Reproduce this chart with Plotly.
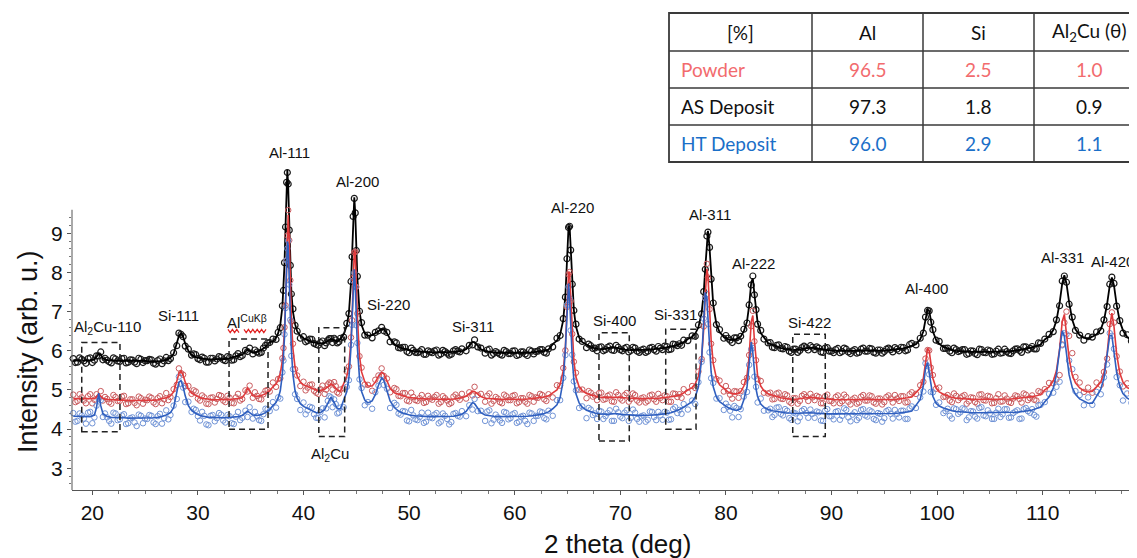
import plotly.graph_objects as go

# ---------------- data ----------------
two_theta = [
    18.2, 18.6, 19.0, 19.4, 19.8,
    20.2, 20.4, 20.6, 20.8, 21.0,
    21.4, 21.8, 22.2, 22.6, 23.0, 23.4, 23.8, 24.2, 24.6, 25.0, 25.4, 25.8, 26.2, 26.6, 27.0, 27.4,
    27.7, 28.0, 28.2, 28.4, 28.6, 28.8, 29.1, 29.4,
    29.8, 30.2, 30.6, 31.0, 31.4, 31.8, 32.2, 32.6, 33.0, 33.4, 33.8, 34.2,
    34.5, 34.7, 34.9, 35.2,
    35.6, 36.0, 36.4, 36.8,
    37.1, 37.4, 37.6, 37.8, 38.0, 38.1, 38.2, 38.3, 38.4, 38.47, 38.55, 38.65, 38.75, 38.85, 39.0, 39.2, 39.4, 39.7, 40.0,
    40.4, 40.8, 41.2, 41.6, 42.0, 42.3, 42.6, 42.9, 43.2, 43.5,
    43.8, 44.1, 44.3, 44.5, 44.6, 44.7, 44.81, 44.9, 45.0, 45.1, 45.3, 45.5, 45.8, 46.1,
    46.5, 46.8, 47.1, 47.4, 47.6, 47.9, 48.2, 48.6,
    49.0, 49.4, 49.8, 50.2, 50.6, 51.0, 51.4, 51.8, 52.2, 52.6, 53.0, 53.4, 53.8, 54.2, 54.6, 55.0,
    55.4, 55.7, 56.0, 56.2, 56.5, 56.8, 57.2,
    57.6, 58.0, 58.4, 58.8, 59.2, 59.6, 60.0, 60.4, 60.8, 61.2, 61.6, 62.0, 62.4, 62.8, 63.2,
    63.6, 64.0, 64.3, 64.6, 64.8, 64.95, 65.1, 65.2, 65.3, 65.45, 65.6, 65.8, 66.1, 66.4, 66.8,
    67.2, 67.6, 68.0, 68.4, 68.8, 69.2, 69.6, 70.0, 70.4, 70.8, 71.2, 71.6, 72.0, 72.4, 72.8, 73.2, 73.6, 74.0, 74.4, 74.8, 75.2, 75.6, 76.0,
    76.4, 76.8, 77.1, 77.4, 77.7, 77.9, 78.05, 78.2, 78.3, 78.45, 78.6, 78.8, 79.1, 79.4, 79.8,
    80.2, 80.6, 81.0, 81.4,
    81.7, 82.0, 82.2, 82.4, 82.55, 82.7, 82.85, 83.0, 83.3, 83.6, 84.0,
    84.4, 84.8, 85.2, 85.6, 86.0, 86.4, 86.8, 87.2, 87.6, 88.0, 88.4, 88.8, 89.2, 89.6, 90.0, 90.4, 90.8,
    91.2, 91.6, 92.0, 92.4, 92.8, 93.2, 93.6, 94.0, 94.4, 94.8, 95.2, 95.6, 96.0, 96.4, 96.8, 97.2, 97.6,
    98.0, 98.4, 98.7, 98.9, 99.1, 99.25, 99.4, 99.6, 99.9, 100.2, 100.6,
    101.0, 101.4, 101.8, 102.2, 102.6, 103.0, 103.4, 103.8, 104.2, 104.6, 105.0, 105.4, 105.8, 106.2, 106.6,
    107.0, 107.4, 107.8, 108.2, 108.6, 109.0, 109.4, 109.8,
    110.2, 110.6, 111.0, 111.3, 111.6, 111.85, 112.05, 112.25, 112.5, 112.8, 113.1, 113.5, 113.9, 114.3, 114.7,
    115.1, 115.5, 115.8, 116.1, 116.35, 116.55, 116.75, 117.0, 117.3, 117.6, 118.0, 118.4, 118.8, 119.2,
]

# AS Deposit (black) - fitted curve
as_fit = [
    5.75, 5.75, 5.76, 5.75, 5.76,
    5.78, 5.84, 5.92, 5.90, 5.80,
    5.76, 5.75, 5.75, 5.74, 5.75, 5.75, 5.74, 5.74, 5.75, 5.74, 5.73, 5.72, 5.73, 5.74, 5.77, 5.82,
    5.92, 6.18, 6.38, 6.45, 6.36, 6.18, 6.00, 5.90,
    5.84, 5.81, 5.79, 5.78, 5.78, 5.78, 5.78, 5.79, 5.81, 5.84, 5.87, 5.90,
    5.98, 6.03, 6.00, 5.95,
    5.97, 6.02, 6.10, 6.22,
    6.24, 6.33, 6.45, 6.66, 7.12, 7.53, 8.20, 9.20, 10.28, 10.62, 10.20, 9.10, 8.15, 7.50, 7.00, 6.68, 6.50, 6.38, 6.32,
    6.27, 6.23, 6.20, 6.19, 6.20, 6.24, 6.30, 6.27, 6.24, 6.30,
    6.42, 6.64, 6.97, 7.74, 8.45, 9.36, 9.92, 9.52, 8.62, 7.86, 7.02, 6.66, 6.44, 6.38,
    6.40, 6.44, 6.50, 6.55, 6.55, 6.45, 6.30, 6.17,
    6.10, 6.06, 6.03, 6.00, 5.99, 5.98, 5.97, 5.96, 5.96, 5.96, 5.96, 5.96, 5.96, 5.97, 5.98, 6.00,
    6.04, 6.12, 6.22, 6.22, 6.12, 6.04, 5.99,
    5.97, 5.96, 5.95, 5.95, 5.94, 5.94, 5.94, 5.94, 5.95, 5.95, 5.96, 5.97, 5.98, 6.00, 6.03,
    6.17, 6.26, 6.41, 6.79, 7.42, 8.28, 9.18, 9.18, 8.63, 7.66, 7.04, 6.62, 6.34, 6.22, 6.15,
    6.10, 6.06, 6.04, 6.04, 6.07, 6.09, 6.08, 6.05, 6.03, 6.02, 6.02, 6.02, 6.02, 6.02, 6.03, 6.04, 6.05, 6.07, 6.09, 6.11, 6.13, 6.17, 6.22,
    6.30, 6.36, 6.44, 6.60, 6.96, 7.48, 8.13, 8.86, 9.06, 8.64, 7.89, 7.18, 6.68, 6.48, 6.36,
    6.30, 6.28, 6.30, 6.36,
    6.50, 6.75, 7.15, 7.75, 7.85, 7.45, 7.02, 6.73, 6.45, 6.33, 6.20,
    6.15, 6.10, 6.07, 6.05, 6.03, 6.02, 6.03, 6.05, 6.07, 6.08, 6.07, 6.05, 6.03, 6.02, 6.01, 6.00, 6.00,
    6.00, 6.00, 6.00, 6.00, 6.00, 6.00, 6.00, 6.00, 6.00, 6.01, 6.01, 6.02, 6.03, 6.04, 6.06, 6.09, 6.13,
    6.17, 6.29, 6.50, 6.79, 7.06, 7.02, 6.79, 6.50, 6.28, 6.18, 6.10,
    6.05, 6.02, 6.00, 5.99, 5.98, 5.97, 5.97, 5.97, 5.97, 5.97, 5.97, 5.97, 5.97, 5.98, 5.98,
    5.99, 6.00, 6.02, 6.04, 6.06, 6.09, 6.12, 6.16,
    6.29, 6.37, 6.53, 6.77, 7.22, 7.72, 7.93, 7.72, 7.24, 6.79, 6.55, 6.40, 6.33, 6.32, 6.36,
    6.42, 6.55, 6.77, 7.20, 7.67, 7.87, 7.67, 7.18, 6.75, 6.52, 6.35, 6.27, 6.22, 6.18,
]

# AS Deposit (black) - measured points
as_raw = [
    5.80, 5.71, 5.78, 5.68, 5.82,
    5.76, 5.87, 5.87, 5.97, 5.77,
    5.76, 5.69, 5.79, 5.73, 5.81, 5.71, 5.76, 5.67, 5.78, 5.75, 5.78, 5.68, 5.75, 5.67, 5.83, 5.80,
    5.95, 6.13, 6.45, 6.42, 6.36, 6.12, 6.04, 5.89,
    5.90, 5.77, 5.81, 5.71, 5.81, 5.79, 5.83, 5.75, 5.83, 5.77, 5.93, 5.88,
    6.01, 5.98, 6.07, 5.92,
    5.97, 5.96, 6.14, 6.21,
    6.30, 6.29, 6.47, 6.59, 7.15, 7.54, 8.25, 9.16, 10.30, 10.55, 10.26, 9.08, 8.18, 7.45, 7.07, 6.65, 6.50, 6.32, 6.36,
    6.26, 6.29, 6.16, 6.21, 6.13, 6.27, 6.31, 6.32, 6.20, 6.32,
    6.35, 6.70, 6.95, 7.77, 8.40, 9.43, 9.89, 9.52, 8.56, 7.90, 7.01, 6.72, 6.40, 6.40,
    6.33, 6.47, 6.51, 6.60, 6.51, 6.47, 6.23, 6.23,
    6.08, 6.09, 5.98, 6.07, 5.96, 5.98, 5.91, 6.00, 5.95, 6.02, 5.92, 5.98, 5.89, 6.00, 5.99, 6.05,
    6.00, 6.14, 6.15, 6.28, 6.10, 6.07, 5.94,
    6.04, 5.93, 5.95, 5.89, 5.98, 5.93, 6.00, 5.90, 5.97, 5.88, 5.99, 5.98, 6.03, 5.96, 6.05,
    6.10, 6.32, 6.39, 6.82, 7.37, 8.35, 9.15, 9.18, 8.57, 7.70, 7.03, 6.68, 6.30, 6.24, 6.08,
    6.13, 6.07, 6.09, 6.00, 6.09, 6.02, 6.14, 6.03, 6.06, 5.97, 6.09, 5.99, 6.02, 5.96, 6.07, 6.03, 6.11, 6.03, 6.11, 6.04, 6.16, 6.18, 6.27,
    6.26, 6.38, 6.37, 6.66, 6.94, 7.51, 8.08, 8.93, 9.03, 8.64, 7.83, 7.22, 6.67, 6.54, 6.32,
    6.32, 6.21, 6.33, 6.37,
    6.55, 6.71, 7.17, 7.68, 7.91, 7.43, 7.05, 6.68, 6.52, 6.30, 6.20,
    6.09, 6.14, 6.06, 6.11, 5.99, 6.04, 5.96, 6.08, 6.08, 6.13, 6.03, 6.07, 5.96, 6.08, 5.99, 6.03, 5.95,
    6.07, 5.97, 6.00, 5.94, 6.04, 5.99, 6.06, 5.96, 6.02, 5.94, 6.04, 6.03, 6.08, 6.00, 6.08, 6.02, 6.19,
    6.15, 6.32, 6.45, 6.86, 7.03, 7.02, 6.73, 6.54, 6.27, 6.24, 6.06,
    6.07, 5.95, 6.03, 6.00, 6.03, 5.93, 5.99, 5.90, 6.03, 5.95, 6.00, 5.92, 6.04, 5.95, 5.98,
    5.93, 6.04, 6.01, 6.10, 6.02, 6.11, 6.05, 6.19,
    6.30, 6.42, 6.49, 6.79, 7.15, 7.78, 7.91, 7.75, 7.19, 6.86, 6.52, 6.40, 6.27, 6.36, 6.35,
    6.48, 6.51, 6.79, 7.13, 7.70, 7.88, 7.72, 7.14, 6.77, 6.45, 6.41, 6.25, 6.25, 6.13,
]

# Powder (red) - fitted curve
powder_fit = [
    4.78, 4.78, 4.77, 4.77, 4.77,
    4.78, 4.82, 4.90, 4.84, 4.78,
    4.76, 4.75, 4.74, 4.74, 4.74, 4.73, 4.73, 4.73, 4.73, 4.73, 4.73, 4.74, 4.75, 4.77, 4.80, 4.85,
    4.95, 5.22, 5.42, 5.48, 5.38, 5.20, 5.02, 4.92,
    4.85, 4.80, 4.78, 4.76, 4.75, 4.75, 4.75, 4.75, 4.76, 4.77, 4.78, 4.80,
    4.92, 5.05, 4.98, 4.85,
    4.84, 4.86, 4.90, 4.98,
    5.08, 5.15, 5.25, 5.42, 5.75, 6.05, 6.50, 7.22, 8.27, 9.05, 9.47, 8.85, 7.73, 6.83, 6.05, 5.58, 5.36, 5.20, 5.13,
    5.08, 5.03, 5.00, 4.99, 5.02, 5.08, 5.15, 5.10, 5.00, 4.97,
    5.16, 5.35, 5.63, 6.27, 6.87, 7.73, 8.56, 8.52, 7.73, 6.87, 5.88, 5.46, 5.21, 5.10,
    5.10, 5.20, 5.35, 5.45, 5.42, 5.25, 5.05, 4.93,
    4.88, 4.85, 4.82, 4.80, 4.79, 4.78, 4.77, 4.77, 4.77, 4.76, 4.76, 4.76, 4.76, 4.77, 4.78, 4.80,
    4.84, 4.90, 4.97, 4.96, 4.90, 4.83, 4.79,
    4.78, 4.77, 4.77, 4.76, 4.76, 4.76, 4.76, 4.76, 4.76, 4.77, 4.78, 4.79, 4.80, 4.82, 4.85,
    4.92, 5.00, 5.14, 5.49, 6.10, 6.99, 8.00, 8.00, 7.37, 6.35, 5.74, 5.33, 5.08, 4.98, 4.91,
    4.87, 4.84, 4.82, 4.81, 4.81, 4.82, 4.82, 4.81, 4.80, 4.79, 4.78, 4.78, 4.78, 4.78, 4.78, 4.78, 4.79, 4.80, 4.81, 4.82, 4.84, 4.87, 4.92,
    5.00, 5.06, 5.16, 5.35, 5.82, 6.55, 7.43, 8.09, 7.92, 7.05, 6.28, 5.68, 5.30, 5.13, 5.03,
    4.95, 4.90, 4.90, 4.95,
    5.10, 5.37, 5.85, 6.74, 6.90, 6.27, 5.69, 5.37, 5.10, 4.98, 4.90,
    4.86, 4.83, 4.80, 4.78, 4.77, 4.76, 4.77, 4.79, 4.80, 4.81, 4.80, 4.78, 4.77, 4.76, 4.75, 4.75, 4.75,
    4.75, 4.75, 4.75, 4.75, 4.75, 4.75, 4.75, 4.75, 4.75, 4.75, 4.75, 4.76, 4.76, 4.77, 4.78, 4.80, 4.82,
    4.93, 5.05, 5.30, 5.67, 6.07, 6.00, 5.67, 5.30, 5.05, 4.95, 4.89,
    4.84, 4.81, 4.79, 4.78, 4.77, 4.77, 4.76, 4.76, 4.76, 4.76, 4.76, 4.76, 4.76, 4.76, 4.77,
    4.77, 4.78, 4.79, 4.80, 4.81, 4.83, 4.85, 4.88,
    5.00, 5.08, 5.23, 5.49, 6.04, 6.75, 6.93, 6.47, 5.81, 5.38, 5.18, 5.05, 4.98, 4.95, 4.97,
    5.08, 5.20, 5.43, 5.92, 6.62, 6.96, 6.62, 5.92, 5.43, 5.20, 5.06, 5.00, 4.96, 4.94,
]

# Powder (red) - measured points
powder_raw = [
    4.88, 4.72, 4.81, 4.66, 4.89,
    4.75, 4.89, 4.81, 4.97, 4.73,
    4.77, 4.65, 4.82, 4.72, 4.85, 4.66, 4.76, 4.61, 4.79, 4.75, 4.83, 4.68, 4.79, 4.66, 4.92, 4.82,
    5.02, 5.13, 5.55, 5.43, 5.39, 5.10, 5.10, 4.90,
    4.96, 4.73, 4.81, 4.64, 4.81, 4.77, 4.85, 4.69, 4.80, 4.66, 4.90, 4.77,
    4.99, 4.96, 5.11, 4.80,
    4.85, 4.76, 4.98, 4.96,
    5.19, 5.08, 5.28, 5.30, 5.81, 6.07, 6.60, 7.16, 8.31, 8.94, 9.59, 8.82, 7.80, 6.74, 6.18, 5.53, 5.37, 5.10, 5.21,
    5.06, 5.14, 4.93, 5.02, 4.90, 5.14, 5.17, 5.20, 4.94, 5.01,
    5.05, 5.47, 5.60, 6.34, 6.78, 7.86, 8.51, 8.53, 7.63, 6.95, 5.86, 5.57, 5.14, 5.13,
    4.98, 5.26, 5.37, 5.55, 5.36, 5.29, 4.94, 5.05,
    4.85, 4.92, 4.73, 4.93, 4.74, 4.79, 4.67, 4.85, 4.75, 4.87, 4.69, 4.79, 4.64, 4.83, 4.80, 4.90,
    4.78, 4.94, 4.86, 5.08, 4.87, 4.90, 4.70,
    4.91, 4.72, 4.78, 4.66, 4.84, 4.74, 4.87, 4.69, 4.79, 4.65, 4.84, 4.81, 4.90, 4.76, 4.89,
    4.81, 5.12, 5.11, 5.56, 6.01, 7.12, 7.95, 8.01, 7.27, 6.43, 5.72, 5.44, 5.01, 5.01, 4.79,
    4.93, 4.86, 4.92, 4.75, 4.85, 4.71, 4.94, 4.78, 4.87, 4.70, 4.91, 4.73, 4.79, 4.68, 4.86, 4.76, 4.90, 4.74, 4.84, 4.70, 4.90, 4.89, 5.02,
    4.94, 5.10, 5.05, 5.47, 5.79, 6.62, 7.34, 8.22, 7.87, 7.06, 6.18, 5.76, 5.28, 5.24, 4.96,
    4.98, 4.78, 4.96, 4.97,
    5.20, 5.31, 5.89, 6.63, 7.02, 6.24, 5.76, 5.28, 5.23, 4.93, 4.91,
    4.76, 4.91, 4.78, 4.89, 4.70, 4.79, 4.65, 4.85, 4.82, 4.90, 4.74, 4.82, 4.66, 4.88, 4.72, 4.82, 4.66,
    4.88, 4.70, 4.76, 4.65, 4.83, 4.73, 4.86, 4.68, 4.78, 4.63, 4.82, 4.78, 4.87, 4.72, 4.84, 4.69, 4.94,
    4.90, 5.12, 5.21, 5.80, 6.02, 6.01, 5.57, 5.38, 5.03, 5.06, 4.82,
    4.87, 4.69, 4.85, 4.80, 4.87, 4.71, 4.80, 4.65, 4.89, 4.73, 4.83, 4.67, 4.89, 4.71, 4.78,
    4.67, 4.86, 4.77, 4.91, 4.74, 4.86, 4.73, 4.94,
    5.02, 5.18, 5.17, 5.27, 5.38, 6.16, 6.72, 7.00, 6.38, 5.94, 5.33, 5.19, 4.95, 5.06, 4.93,
    5.19, 5.13, 5.46, 5.80, 6.68, 6.98, 6.72, 5.86, 5.47, 5.09, 5.17, 4.93, 4.99, 4.84,
]

# HT Deposit (blue) - fitted curve
ht_fit = [
    4.33, 4.33, 4.32, 4.32, 4.32,
    4.36, 4.55, 4.92, 4.60, 4.40,
    4.32, 4.30, 4.30, 4.29, 4.29, 4.28, 4.28, 4.28, 4.28, 4.28, 4.28, 4.29, 4.30, 4.32, 4.36, 4.42,
    4.55, 4.92, 5.20, 5.24, 5.08, 4.85, 4.60, 4.48,
    4.40, 4.35, 4.32, 4.30, 4.30, 4.29, 4.29, 4.29, 4.30, 4.31, 4.32, 4.35,
    4.42, 4.46, 4.42, 4.36,
    4.35, 4.37, 4.42, 4.50,
    4.60, 4.68, 4.79, 4.98, 5.39, 5.76, 6.34, 7.21, 8.28, 8.79, 8.69, 7.75, 6.74, 6.02, 5.39, 4.98, 4.79, 4.65, 4.58,
    4.52, 4.46, 4.42, 4.42, 4.50, 4.66, 4.82, 4.68, 4.52, 4.52,
    4.74, 4.96, 5.31, 6.10, 6.81, 7.65, 8.08, 7.65, 6.81, 6.10, 5.31, 4.96, 4.74, 4.67,
    4.72, 4.88, 5.12, 5.30, 5.25, 5.00, 4.72, 4.55,
    4.46, 4.41, 4.37, 4.35, 4.34, 4.33, 4.32, 4.32, 4.32, 4.32, 4.32, 4.32, 4.32, 4.33, 4.35, 4.38,
    4.45, 4.58, 4.68, 4.65, 4.52, 4.42, 4.36,
    4.34, 4.33, 4.32, 4.32, 4.32, 4.32, 4.32, 4.32, 4.32, 4.33, 4.34, 4.35, 4.37, 4.40, 4.44,
    4.52, 4.62, 4.80, 5.26, 6.04, 7.03, 7.72, 7.36, 6.68, 5.80, 5.26, 4.90, 4.67, 4.56, 4.48,
    4.44, 4.41, 4.39, 4.38, 4.38, 4.39, 4.40, 4.38, 4.37, 4.36, 4.36, 4.35, 4.35, 4.35, 4.35, 4.36, 4.37, 4.38, 4.40, 4.42, 4.45, 4.50, 4.56,
    4.62, 4.70, 4.82, 5.08, 5.78, 6.77, 7.49, 7.31, 6.77, 5.98, 5.46, 5.08, 4.82, 4.70, 4.62,
    4.55, 4.50, 4.48, 4.52,
    4.75, 5.07, 5.61, 6.22, 5.95, 5.40, 5.03, 4.83, 4.64, 4.56, 4.50,
    4.47, 4.45, 4.43, 4.42, 4.41, 4.40, 4.40, 4.41, 4.42, 4.42, 4.41, 4.40, 4.39, 4.39, 4.39, 4.39, 4.39,
    4.39, 4.39, 4.39, 4.39, 4.39, 4.39, 4.39, 4.39, 4.39, 4.39, 4.39, 4.40, 4.40, 4.41, 4.42, 4.44, 4.46,
    4.60, 4.76, 5.11, 5.54, 5.70, 5.42, 5.11, 4.84, 4.66, 4.59, 4.54,
    4.50, 4.47, 4.45, 4.44, 4.43, 4.42, 4.42, 4.42, 4.42, 4.42, 4.42, 4.42, 4.42, 4.42, 4.42,
    4.43, 4.43, 4.44, 4.45, 4.47, 4.49, 4.52, 4.56,
    4.70, 4.82, 5.05, 5.39, 6.02, 6.51, 6.37, 5.90, 5.39, 5.06, 4.89, 4.77, 4.71, 4.66, 4.66,
    4.86, 5.02, 5.30, 5.85, 6.39, 6.39, 5.97, 5.45, 5.09, 4.91, 4.79, 4.73, 4.70, 4.68,
]

# HT Deposit (blue) - measured points
ht_raw = [
    4.41, 4.21, 4.35, 4.14, 4.44,
    4.30, 4.60, 4.77, 4.74, 4.31,
    4.30, 4.14, 4.40, 4.25, 4.38, 4.15, 4.30, 4.08, 4.34, 4.27, 4.36, 4.17, 4.33, 4.14, 4.48, 4.36,
    4.60, 4.77, 5.34, 5.15, 5.06, 4.69, 4.70, 4.44,
    4.49, 4.22, 4.34, 4.10, 4.36, 4.28, 4.37, 4.17, 4.33, 4.13, 4.44, 4.29,
    4.47, 4.31, 4.56, 4.27,
    4.33, 4.21, 4.52, 4.46,
    4.69, 4.55, 4.81, 4.78, 5.45, 5.75, 6.42, 7.09, 8.31, 8.61, 8.81, 7.69, 6.79, 5.87, 5.53, 4.89, 4.77, 4.49, 4.68,
    4.48, 4.55, 4.29, 4.44, 4.30, 4.72, 4.81, 4.76, 4.40, 4.55,
    4.56, 5.08, 5.25, 6.15, 6.66, 7.79, 7.99, 7.63, 6.65, 6.20, 5.27, 5.05, 4.61, 4.69,
    4.52, 4.94, 5.11, 5.38, 5.13, 5.03, 4.54, 4.67,
    4.40, 4.46, 4.22, 4.49, 4.25, 4.31, 4.16, 4.42, 4.28, 4.41, 4.19, 4.34, 4.12, 4.39, 4.34, 4.46,
    4.33, 4.61, 4.50, 4.77, 4.46, 4.47, 4.21,
    4.48, 4.24, 4.30, 4.16, 4.42, 4.28, 4.41, 4.19, 4.34, 4.13, 4.40, 4.34, 4.45, 4.28, 4.47,
    4.34, 4.74, 4.74, 5.31, 5.89, 7.17, 7.63, 7.34, 6.52, 5.90, 5.22, 4.99, 4.54, 4.58, 4.28,
    4.50, 4.40, 4.47, 4.26, 4.41, 4.21, 4.52, 4.32, 4.42, 4.21, 4.50, 4.26, 4.33, 4.19, 4.45, 4.31, 4.44, 4.24, 4.42, 4.25, 4.56, 4.49, 4.64,
    4.50, 4.73, 4.64, 5.20, 5.72, 6.82, 7.34, 7.45, 6.68, 5.96, 5.30, 5.18, 4.78, 4.79, 4.49,
    4.57, 4.30, 4.54, 4.51,
    4.83, 4.95, 5.64, 6.04, 6.07, 5.34, 5.08, 4.68, 4.78, 4.47, 4.48,
    4.31, 4.55, 4.39, 4.51, 4.28, 4.42, 4.20, 4.47, 4.41, 4.50, 4.29, 4.43, 4.21, 4.51, 4.33, 4.44, 4.24,
    4.53, 4.30, 4.37, 4.23, 4.49, 4.35, 4.48, 4.26, 4.41, 4.19, 4.46, 4.39, 4.49, 4.30, 4.47, 4.26, 4.58,
    4.54, 4.81, 4.96, 5.68, 5.61, 5.40, 4.95, 4.94, 4.62, 4.68, 4.41,
    4.52, 4.27, 4.51, 4.43, 4.51, 4.30, 4.45, 4.27, 4.56, 4.33, 4.40, 4.26, 4.52, 4.38, 4.51,
    4.30, 4.45, 4.26, 4.51, 4.46, 4.51, 4.32, 4.62,
    4.69, 4.90, 4.93, 5.08, 5.21, 6.14, 6.45, 6.42, 5.75, 5.53, 4.97, 4.87, 4.61, 4.81, 4.62,
    4.95, 4.89, 5.32, 5.65, 6.45, 6.38, 6.05, 5.33, 5.12, 4.73, 4.91, 4.67, 4.75, 4.53,
]

# additional measured points in the flat background stretches
two_theta_bg = [
    18.4, 18.8, 19.2, 19.6, 20.0,
    21.2, 21.6, 22.0, 22.4, 22.8, 23.2, 23.6, 24.0, 24.4, 24.8, 25.2, 25.6, 26.0, 26.4, 26.8, 27.2,
    29.6, 30.0, 30.4, 30.8, 31.2, 31.6, 32.0, 32.4, 32.8, 33.2, 33.6, 34.0,
    35.4, 35.8, 36.2, 36.6,
    40.2, 40.6, 41.0, 41.4, 41.8, 42.15, 42.45, 42.75, 43.05, 43.35,
    48.8, 49.2, 49.6, 50.0, 50.4, 50.8, 51.2, 51.6, 52.0, 52.4, 52.8, 53.2, 53.6, 54.0, 54.4, 54.8,
    57.4, 57.8, 58.2, 58.6, 59.0, 59.4, 59.8, 60.2, 60.6, 61.0, 61.4, 61.8, 62.2, 62.6, 63.0,
    67.0, 67.4, 67.8, 68.2, 68.6, 69.0, 69.4, 69.8, 70.2, 70.6, 71.0, 71.4, 71.8, 72.2, 72.6, 73.0,
    73.4, 73.8, 74.2, 74.6, 75.0, 75.4, 75.8,
    80.0, 80.4, 80.8, 81.2,
    84.2, 84.6, 85.0, 85.4, 85.8, 86.2, 86.6, 87.0, 87.4, 87.8, 88.2, 88.6, 89.0, 89.4, 89.8, 90.2, 90.6,
    91.0, 91.4, 91.8, 92.2, 92.6, 93.0, 93.4, 93.8, 94.2, 94.6, 95.0, 95.4, 95.8, 96.2, 96.6, 97.0, 97.4,
    100.8, 101.2, 101.6, 102.0, 102.4, 102.8, 103.2, 103.6, 104.0, 104.4, 104.8, 105.2, 105.6, 106.0,
    106.4, 106.8, 107.2, 107.6, 108.0, 108.4, 108.8, 109.2, 109.6,
]
as_raw_bg = [
    5.70, 5.82, 5.74, 5.80, 5.70,
    5.81, 5.72, 5.82, 5.74, 5.80, 5.69, 5.77, 5.71, 5.81, 5.70, 5.75, 5.77, 5.66, 5.79, 5.74, 5.75,
    5.92, 5.80, 5.84, 5.71, 5.81, 5.74, 5.85, 5.77, 5.85, 5.76, 5.87, 5.85,
    6.02, 5.94, 6.07, 6.20,
    6.23, 6.30, 6.19, 6.14, 6.25, 6.20, 6.31, 6.21, 6.28, 6.23,
    6.20, 6.07, 6.09, 5.95, 6.01, 5.95, 6.03, 5.91, 5.97, 6.00, 5.89, 6.01, 5.94, 5.91, 6.03, 5.97,
    6.02, 5.89, 5.98, 5.91, 6.01, 5.93, 5.99, 5.88, 5.97, 5.92, 6.02, 5.92, 5.99, 6.03, 5.94,
    6.17, 6.06, 6.00, 6.10, 6.03, 6.12, 6.01, 6.09, 6.00, 6.09, 6.01, 6.07, 5.96, 6.04, 5.99, 6.09,
    5.99, 6.07, 6.12, 6.03, 6.17, 6.13, 6.14,
    6.39, 6.27, 6.33, 6.26,
    6.21, 6.08, 6.15, 6.05, 6.09, 5.96, 6.04, 6.01, 6.12, 6.02, 6.09, 6.10, 5.97, 6.07, 5.99, 5.95, 6.06,
    5.98, 6.04, 5.93, 6.03, 5.96, 6.07, 5.99, 6.05, 5.94, 6.02, 5.98, 6.07, 5.97, 6.04, 6.09, 6.00, 6.16,
    6.06, 5.99, 6.07, 5.98, 6.03, 5.91, 6.00, 5.93, 6.04, 5.96, 6.02, 5.91, 5.99, 5.94,
    6.04, 5.94, 6.00, 6.05, 5.96, 6.10, 6.06, 6.05, 6.20,
]
powder_raw_bg = [
    4.69, 4.89, 4.73, 4.84, 4.66,
    4.82, 4.69, 4.87, 4.72, 4.83, 4.64, 4.76, 4.67, 4.83, 4.65, 4.74, 4.80, 4.64, 4.84, 4.76, 4.74,
    4.99, 4.78, 4.86, 4.65, 4.80, 4.68, 4.87, 4.73, 4.85, 4.67, 4.81, 4.73,
    4.94, 4.77, 4.89, 5.00,
    4.99, 5.13, 4.98, 4.90, 5.11, 5.01, 5.19, 5.01, 5.10, 4.91,
    5.02, 4.84, 4.92, 4.71, 4.82, 4.72, 4.87, 4.69, 4.78, 4.82, 4.65, 4.84, 4.73, 4.67, 4.88, 4.75,
    4.85, 4.65, 4.82, 4.69, 4.88, 4.74, 4.85, 4.66, 4.79, 4.70, 4.87, 4.70, 4.80, 4.87, 4.72,
    4.97, 4.83, 4.74, 4.93, 4.77, 4.88, 4.70, 4.87, 4.73, 4.92, 4.77, 4.87, 4.68, 4.81, 4.72, 4.88,
    4.70, 4.80, 4.86, 4.70, 4.91, 4.82, 4.80,
    5.10, 4.88, 4.97, 4.80,
    4.93, 4.77, 4.93, 4.77, 4.86, 4.66, 4.79, 4.72, 4.89, 4.72, 4.81, 4.85, 4.66, 4.84, 4.72, 4.66, 4.86,
    4.71, 4.82, 4.63, 4.80, 4.68, 4.87, 4.73, 4.84, 4.65, 4.78, 4.69, 4.86, 4.68, 4.78, 4.84, 4.68, 4.89,
    4.83, 4.73, 4.91, 4.74, 4.84, 4.65, 4.81, 4.69, 4.88, 4.74, 4.85, 4.66, 4.79, 4.70,
    4.86, 4.69, 4.78, 4.84, 4.68, 4.88, 4.79, 4.75, 4.97,
]
ht_raw_bg = [
    4.19, 4.40, 4.27, 4.42, 4.15,
    4.40, 4.21, 4.42, 4.23, 4.35, 4.13, 4.28, 4.17, 4.37, 4.15, 4.26, 4.34, 4.13, 4.39, 4.28, 4.25,
    4.52, 4.33, 4.44, 4.12, 4.34, 4.20, 4.41, 4.22, 4.36, 4.15, 4.32, 4.23,
    4.44, 4.23, 4.38, 4.51,
    4.38, 4.57, 4.38, 4.28, 4.53, 4.53, 4.84, 4.56, 4.64, 4.42,
    4.62, 4.37, 4.45, 4.20, 4.35, 4.23, 4.42, 4.19, 4.30, 4.37, 4.15, 4.40, 4.26, 4.18, 4.41, 4.32,
    4.45, 4.15, 4.37, 4.22, 4.44, 4.25, 4.38, 4.16, 4.32, 4.21, 4.42, 4.21, 4.34, 4.43, 4.25,
    4.54, 4.36, 4.26, 4.45, 4.33, 4.48, 4.21, 4.43, 4.28, 4.48, 4.29, 4.42, 4.19, 4.35, 4.24, 4.44,
    4.23, 4.35, 4.44, 4.24, 4.51, 4.41, 4.39,
    4.65, 4.47, 4.59, 4.31,
    4.52, 4.36, 4.56, 4.35, 4.47, 4.24, 4.40, 4.30, 4.51, 4.29, 4.39, 4.45, 4.22, 4.47, 4.33, 4.25, 4.46,
    4.34, 4.49, 4.20, 4.43, 4.29, 4.51, 4.32, 4.45, 4.23, 4.39, 4.28, 4.49, 4.27, 4.39, 4.47, 4.26, 4.53,
    4.46, 4.34, 4.53, 4.39, 4.53, 4.23, 4.46, 4.32, 4.54, 4.35, 4.48, 4.26, 4.42, 4.31,
    4.51, 4.29, 4.41, 4.48, 4.27, 4.54, 4.42, 4.36, 4.61,
]

for _arr in (as_fit, as_raw, powder_fit, powder_raw, ht_fit, ht_raw):
    assert len(_arr) == len(two_theta), len(_arr)
for _arr in (as_raw_bg, powder_raw_bg, ht_raw_bg):
    assert len(_arr) == len(two_theta_bg), (len(_arr), len(two_theta_bg))

# peak labels
peak_labels = ["Al<sub>2</sub>Cu-110", "Si-111", "Al<sup>CuKβ</sup>", "Al-111", "Al-200", "Si-220",
               "Al<sub>2</sub>Cu", "Si-311", "Al-220", "Si-400", "Si-331", "Al-311", "Al-222",
               "Si-422", "Al-400", "Al-331", "Al-420"]
label_x = [21.4, 28.13, 34.65, 38.71, 45.15, 48.08, 42.51, 56.05, 65.43, 69.41, 75.19, 78.5, 82.66,
           87.96, 98.95, 111.83, 116.6]
label_y = [6.585, 6.89, 6.74, 11.05, 10.31, 7.17, 3.34, 6.63, 9.65, 6.77, 6.92, 9.47, 8.22,
           6.71, 7.6, 8.37, 8.27]

# dashed boxes around minor reflections (2theta, intensity)
box_x0 = [19.0, 32.95, 41.45, 67.98, 74.3, 86.33]
box_x1 = [22.62, 36.64, 43.9, 70.85, 77.17, 89.41]
box_y0 = [3.93, 4.00, 3.81, 3.70, 4.00, 3.81]
box_y1 = [6.21, 6.30, 6.59, 6.46, 6.55, 6.42]

# phase fraction table
table_header = ["[%]", "Al", "Si", "Al<sub>2</sub>Cu (θ)"]
table_rows = ["Powder", "AS Deposit", "HT Deposit"]
al_pct = [96.5, 97.3, 96.0]
si_pct = [2.5, 1.8, 2.9]
al2cu_pct = [1.0, 0.9, 1.1]

x_ticks = [20, 30, 40, 50, 60, 70, 80, 90, 100, 110]
y_ticks = [3, 4, 5, 6, 7, 8, 9]

# ---------------- figure ----------------
# the page body has an 8px default margin, so the figure is drawn 8px smaller
OFF = 8
W, H = 1137 - OFF, 558 - OFF
ML = 72 - OFF
PW = W - ML
PH = 490 - OFF
MB = H - PH


def pxx(px):
    return (px - OFF - ML) / PW


def pxy(py):
    return (PH - (py - OFF)) / PH


FONT = "Liberation Sans, Arial, sans-serif"
TFONT = "Lato, Open Sans, sans-serif"
RED_M, RED_L = "#c95a5d", "#e03a3c"
BLUE_M, BLUE_L = "#7093d6", "#2f5fbf"


def marker_trace(x, y, col, size=5.5, w=1.0):
    return go.Scatter(x=x, y=y, mode="markers", showlegend=False, cliponaxis=False,
                      marker=dict(symbol="circle-open", size=size, color=col,
                                  line=dict(width=w, color=col)))


fig = go.Figure()
fig.add_trace(marker_trace(two_theta, as_raw, "#1a1a1a", 6, 1.2))
fig.add_trace(marker_trace(two_theta_bg, as_raw_bg, "#1a1a1a", 6, 1.2))
fig.add_trace(go.Scatter(x=two_theta, y=as_fit, mode="lines", line=dict(color="#000000", width=1.8),
                         showlegend=False))
fig.add_trace(marker_trace(two_theta, powder_raw, RED_M))
fig.add_trace(marker_trace(two_theta_bg, powder_raw_bg, RED_M))
fig.add_trace(marker_trace(two_theta, ht_raw, BLUE_M))
fig.add_trace(marker_trace(two_theta_bg, ht_raw_bg, BLUE_M))
fig.add_trace(go.Scatter(x=two_theta, y=powder_fit, mode="lines", line=dict(color=RED_L, width=1.6),
                         showlegend=False))
fig.add_trace(go.Scatter(x=two_theta, y=ht_fit, mode="lines", line=dict(color=BLUE_L, width=1.6),
                         showlegend=False))

shapes = []
# y axis line (only spans the labelled part)
shapes.append(dict(type="line", xref="paper", yref="y", x0=0, x1=0, y0=2.446, y1=9.6,
                   line=dict(color="#555555", width=1)))
for a, b, c, d in zip(box_x0, box_x1, box_y0, box_y1):
    shapes.append(dict(type="rect", xref="x", yref="y", x0=a, x1=b, y0=c, y1=d,
                       line=dict(color="#222222", width=1.5, dash="6px,4px")))


def squiggle(px0, px1, py, amp=1.6, step=2.2):
    pts = []
    k = 0
    x = px0
    while x <= px1:
        y = py + (amp if k % 2 else -amp)
        pts.append((pxx(x), pxy(y)))
        x += step
        k += 1
    return "M " + " L ".join(f"{u:.5f},{v:.5f}" for u, v in pts)


shapes.append(dict(type="path", xref="paper", yref="paper", path=squiggle(228, 240, 331),
                   line=dict(color="#e02020", width=1.2)))
shapes.append(dict(type="path", xref="paper", yref="paper", path=squiggle(244, 268, 331),
                   line=dict(color="#e02020", width=1.2)))

# table grid (reference pixel positions)
tx0, tx1 = 669, 1146
col_edges = [812, 923, 1034]
row_edges = [13, 51, 88, 125, 162]
tcol = "#3a3a3a"
shapes.append(dict(type="rect", xref="paper", yref="paper", x0=pxx(tx0), x1=pxx(tx1),
                   y0=pxy(row_edges[-1]), y1=pxy(row_edges[0]), line=dict(color=tcol, width=1.8)))
for ce in col_edges:
    shapes.append(dict(type="line", xref="paper", yref="paper", x0=pxx(ce), x1=pxx(ce),
                       y0=pxy(row_edges[-1]), y1=pxy(row_edges[0]), line=dict(color=tcol, width=1.5)))
for re_ in row_edges[1:-1]:
    shapes.append(dict(type="line", xref="paper", yref="paper", x0=pxx(tx0), x1=pxx(tx1),
                       y0=pxy(re_), y1=pxy(re_), line=dict(color=tcol, width=1.5)))

annotations = []
for t, x, y in zip(peak_labels, label_x, label_y):
    annotations.append(dict(text=t, x=x, y=y, xref="x", yref="y", showarrow=False,
                            xanchor="center", yanchor="middle",
                            font=dict(family=FONT, size=15, color="#111111")))

# table text
col_centers = [(tx0 + col_edges[0]) / 2, (col_edges[0] + col_edges[1]) / 2,
               (col_edges[1] + col_edges[2]) / 2, (col_edges[2] + tx1) / 2 - 1]
row_centers = [(row_edges[i] + row_edges[i + 1]) / 2 for i in range(4)]
row_colors = ["#f26b6e", "#111111", "#1b6fc8"]
for j, h in enumerate(table_header):
    annotations.append(dict(text=h, x=pxx(col_centers[j]), y=pxy(row_centers[0]), xref="paper",
                            yref="paper", showarrow=False, xanchor="center", yanchor="middle",
                            font=dict(family=TFONT, size=19, color="#111111")))
for i, name in enumerate(table_rows):
    cy = pxy(row_centers[i + 1])
    annotations.append(dict(text=name, x=pxx(679), y=cy, xref="paper", yref="paper",
                            xanchor="left", yanchor="middle", showarrow=False,
                            font=dict(family=TFONT, size=19, color=row_colors[i])))
    for j, v in enumerate([al_pct[i], si_pct[i], al2cu_pct[i]]):
        annotations.append(dict(text=f"{v:.1f}", x=pxx(col_centers[j + 1]), y=cy, xref="paper",
                                yref="paper", showarrow=False, xanchor="center", yanchor="middle",
                                font=dict(family=TFONT, size=19, color=row_colors[i])))

# axis titles
annotations.append(dict(text="Intensity (arb. u.)", x=pxx(28), y=pxy(352), xref="paper",
                        yref="paper", textangle=-90, showarrow=False, xanchor="center",
                        yanchor="middle", font=dict(family=FONT, size=27, color="#111111")))
annotations.append(dict(text="2 theta (deg)", x=pxx(617), y=pxy(544), xref="paper", yref="paper",
                        showarrow=False, xanchor="center", yanchor="middle",
                        font=dict(family=FONT, size=26, color="#111111")))

x_lo = 20 - (92.3 - 72) / 10.56
x_hi = x_lo + PW / 10.56
y_lo = 3 - (490 - 468.3) / 39.17
y_hi = y_lo + PH / 39.17

y_minor = [round(2.6 + 0.2 * k, 2) for k in range(35)]
y_minor = [v for v in y_minor if abs(v - round(v)) > 1e-6]

fig.update_layout(
    width=W, height=H,
    margin=dict(l=ML, r=0, t=0, b=MB, pad=0, autoexpand=False),
    paper_bgcolor="white", plot_bgcolor="white",
    font=dict(family=FONT, color="#111111"),
    showlegend=False,
    shapes=shapes,
    annotations=annotations,
    xaxis=dict(range=[x_lo, x_hi], showgrid=False, zeroline=False, showline=True,
               linecolor="#555555", linewidth=1, ticks="outside", ticklen=4, tickwidth=1,
               tickcolor="#555555", tickvals=x_ticks, ticktext=[str(v) for v in x_ticks],
               tickfont=dict(family=FONT, size=21, color="#111111"),
               minor=dict(ticks="outside", ticklen=2.5, tickcolor="#777777", dtick=2.5, tick0=0,
                          showgrid=False)),
    yaxis=dict(range=[y_lo, y_hi], showgrid=False, zeroline=False, showline=False,
               ticks="outside", ticklen=4, tickwidth=1, tickcolor="#555555",
               tickvals=y_ticks, ticktext=[str(v) for v in y_ticks],
               tickfont=dict(family=FONT, size=21, color="#111111"),
               minor=dict(ticks="outside", ticklen=2, tickcolor="#777777",
                          tickmode="array", tickvals=y_minor, showgrid=False)),
)

fig.write_html("out.html", config={"displayModeBar": False})
